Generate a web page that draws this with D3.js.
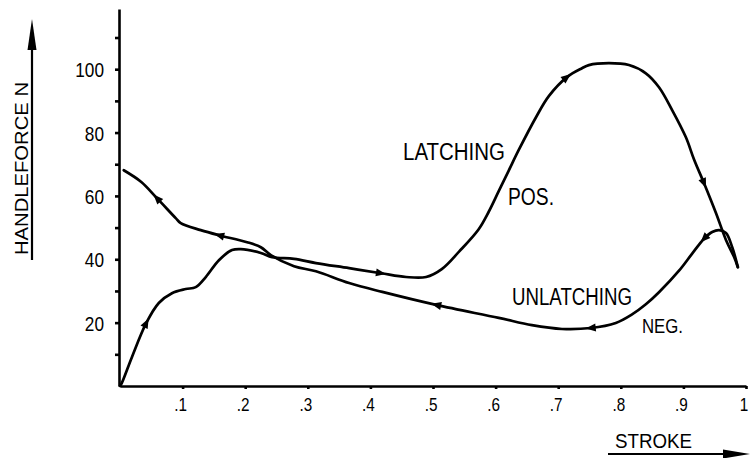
<!DOCTYPE html>
<html>
<head>
<meta charset="utf-8">
<script src="https://cdn.jsdelivr.net/npm/d3@7"></script>
<style>
  html, body { margin: 0; padding: 0; background: #fff; }
  svg { display: block; }
  text { font-family: "Liberation Sans", Arial, sans-serif; fill: #000; }
</style>
</head>
<body>
<svg id="chart" width="751" height="458"></svg>
<script>
// ---- data ----
const latchS = [0, 0.003, 0.019, 0.042, 0.062, 0.083, 0.105, 0.121, 0.137, 0.158, 0.179, 0.193, 0.225, 0.243, 0.278, 0.313, 0.366, 0.417, 0.457, 0.489, 0.514, 0.542, 0.573, 0.589, 0.605, 0.621, 0.637, 0.665, 0.685, 0.714, 0.738, 0.749, 0.781, 0.813, 0.840, 0.861, 0.882, 0.904, 0.917, 0.933, 0.952, 0.968, 0.981, 0.987];
const latchF = [0, 1, 9.1, 19.9, 26.2, 29.3, 30.6, 31.2, 34.4, 39.7, 42.9, 43.2, 42.0, 40.7, 40.1, 38.8, 37.2, 35.6, 34.4, 34.4, 36.9, 42.5, 49.5, 55.0, 61.5, 68.0, 74.5, 85.0, 91.5, 97.5, 100.3, 101.3, 101.9, 101.3, 98.7, 94.3, 87.1, 78.5, 71.5, 64.0, 54.6, 46.1, 40.7, 37.5];
const unlatchS = [0.006, 0.034, 0.059, 0.089, 0.097, 0.129, 0.158, 0.203, 0.225, 0.241, 0.278, 0.313, 0.366, 0.419, 0.505, 0.605, 0.658, 0.706, 0.752, 0.792, 0.818, 0.840, 0.861, 0.893, 0.914, 0.933, 0.946, 0.957, 0.968, 0.978, 0.987];
const unlatchF = [68.1, 64.4, 59.3, 53.0, 51.4, 49.2, 47.6, 45.4, 43.8, 41.3, 37.8, 36.2, 32.5, 29.7, 25.6, 21.5, 19.2, 18.0, 18.3, 19.9, 22.6, 25.8, 29.6, 36.4, 41.8, 46.5, 48.6, 49.2, 48.3, 43.8, 37.5];
const latchArrows = [0.042, 0.417, 0.714, 0.933];
const unlatchArrows = [0.059, 0.158, 0.505, 0.752, 0.933];
const xTicks = [0.1, 0.2, 0.3, 0.4, 0.5, 0.6, 0.7, 0.8, 0.9, 1];
const xTickLabels = [".1", ".2", ".3", ".4", ".5", ".6", ".7", ".8", ".9", "1"];
const yTicks = [10, 20, 30, 40, 50, 60, 70, 80, 90, 100, 110];
const yLabelValues = [20, 40, 60, 80, 100];
const yLabels = ["20", "40", "60", "80", "100"];

// ---- scales ----
const svg = d3.select("#chart");
const x = d3.scaleLinear().domain([0, 1]).range([120, 746]);
const y = d3.scaleLinear().domain([0, 119]).range([386, 9]);

// ---- axes ----
const yAxis = svg.append("g").attr("transform", `translate(${x(0) - 1},0)`)
  .call(d3.axisLeft(y).tickValues(yTicks).tickSize(4).tickSizeOuter(0).tickFormat(""));
yAxis.select(".domain").attr("stroke", "#000").attr("stroke-width", 2.6);
yAxis.selectAll(".tick line").attr("stroke", "#000").attr("stroke-width", 2.6);

const xAxis = svg.append("g").attr("transform", `translate(0,${y(0)})`)
  .call(d3.axisBottom(x).tickValues(xTicks).tickSize(3).tickSizeOuter(0).tickFormat(""));
xAxis.select(".domain").attr("stroke", "#000").attr("stroke-width", 2.6);
xAxis.selectAll(".tick line").attr("stroke", "#000").attr("stroke-width", 2.6);

// x tick labels
svg.append("g").selectAll("text").data(xTicks).join("text")
  .attr("transform", (d) => `translate(${x(d) - 2},411) scale(0.85,1)`)
  .attr("text-anchor", "middle")
  .attr("font-size", 18)
  .text((d, i) => xTickLabels[i]);

// y tick labels
svg.append("g").selectAll("text").data(yLabelValues).join("text")
  .attr("transform", (d) => `translate(104,${y(d) + 8}) scale(0.82,1)`)
  .attr("text-anchor", "end")
  .attr("font-size", 21)
  .text((d, i) => yLabels[i]);

// ---- curves ----
const line = d3.line().x((d) => x(d[0])).y((d) => y(d[1])).curve(d3.curveCatmullRom.alpha(0.5));
const latchData = latchS.map((s, i) => [s, latchF[i]]);
const unlatchData = unlatchS.map((s, i) => [s, unlatchF[i]]);

function drawCurve(data, arrows, dir) {
  const p = svg.append("path").datum(data)
    .attr("d", line).attr("fill", "none").attr("stroke", "#000")
    .attr("stroke-width", 2.7).attr("stroke-linejoin", "round").attr("stroke-linecap", "round");
  const node = p.node();
  const L = node.getTotalLength();
  arrows.forEach((s) => {
    const tx = x(s);
    let best = 0, bd = Infinity;
    for (let l = 0; l <= L; l += 0.5) {
      const pt = node.getPointAtLength(l);
      const dd = Math.abs(pt.x - tx);
      if (dd < bd) { bd = dd; best = l; }
    }
    const a = node.getPointAtLength(Math.max(0, best - 3));
    const b = node.getPointAtLength(Math.min(L, best + 3));
    let ang = Math.atan2(b.y - a.y, b.x - a.x) * 180 / Math.PI;
    if (dir < 0) ang += 180;
    const c = node.getPointAtLength(best);
    svg.append("path")
      .attr("d", "M5,0 L-5,-4 L-5,4 Z")
      .attr("fill", "#000")
      .attr("transform", `translate(${c.x},${c.y}) rotate(${ang})`);
  });
}
drawCurve(latchData, latchArrows, 1);
drawCurve(unlatchData, unlatchArrows, -1);

// ---- annotations ----
function label(txt, x0, base, len, size) {
  svg.append("text").attr("x", x0).attr("y", base)
    .attr("font-size", size)
    .attr("textLength", len).attr("lengthAdjust", "spacingAndGlyphs")
    .text(txt);
}
label("LATCHING", 403, 160, 102, 23);
label("POS.", 508, 205, 46, 23);
label("UNLATCHING", 512, 305, 120, 23);
label("NEG.", 642, 333, 41, 21);
label("STROKE", 615, 448, 77, 21);

// y axis title (rotated)
svg.append("text")
  .attr("transform", "translate(28,255) rotate(-90)")
  .attr("font-size", 18)
  .attr("textLength", 173).attr("lengthAdjust", "spacingAndGlyphs")
  .text("HANDLEFORCE  N");

// title arrows / underlines
svg.append("line").attr("x1", 32).attr("y1", 260).attr("x2", 32).attr("y2", 40)
  .attr("stroke", "#000").attr("stroke-width", 2.2);
svg.append("path").attr("d", "M32,19 L27.5,50 L36.5,50 Z").attr("fill", "#000");

svg.append("line").attr("x1", 608).attr("y1", 454).attr("x2", 730).attr("y2", 454)
  .attr("stroke", "#000").attr("stroke-width", 2.2);
svg.append("path").attr("d", "M750,454 L723,449.5 L723,458.5 Z").attr("fill", "#000");
</script>
</body>
</html>
